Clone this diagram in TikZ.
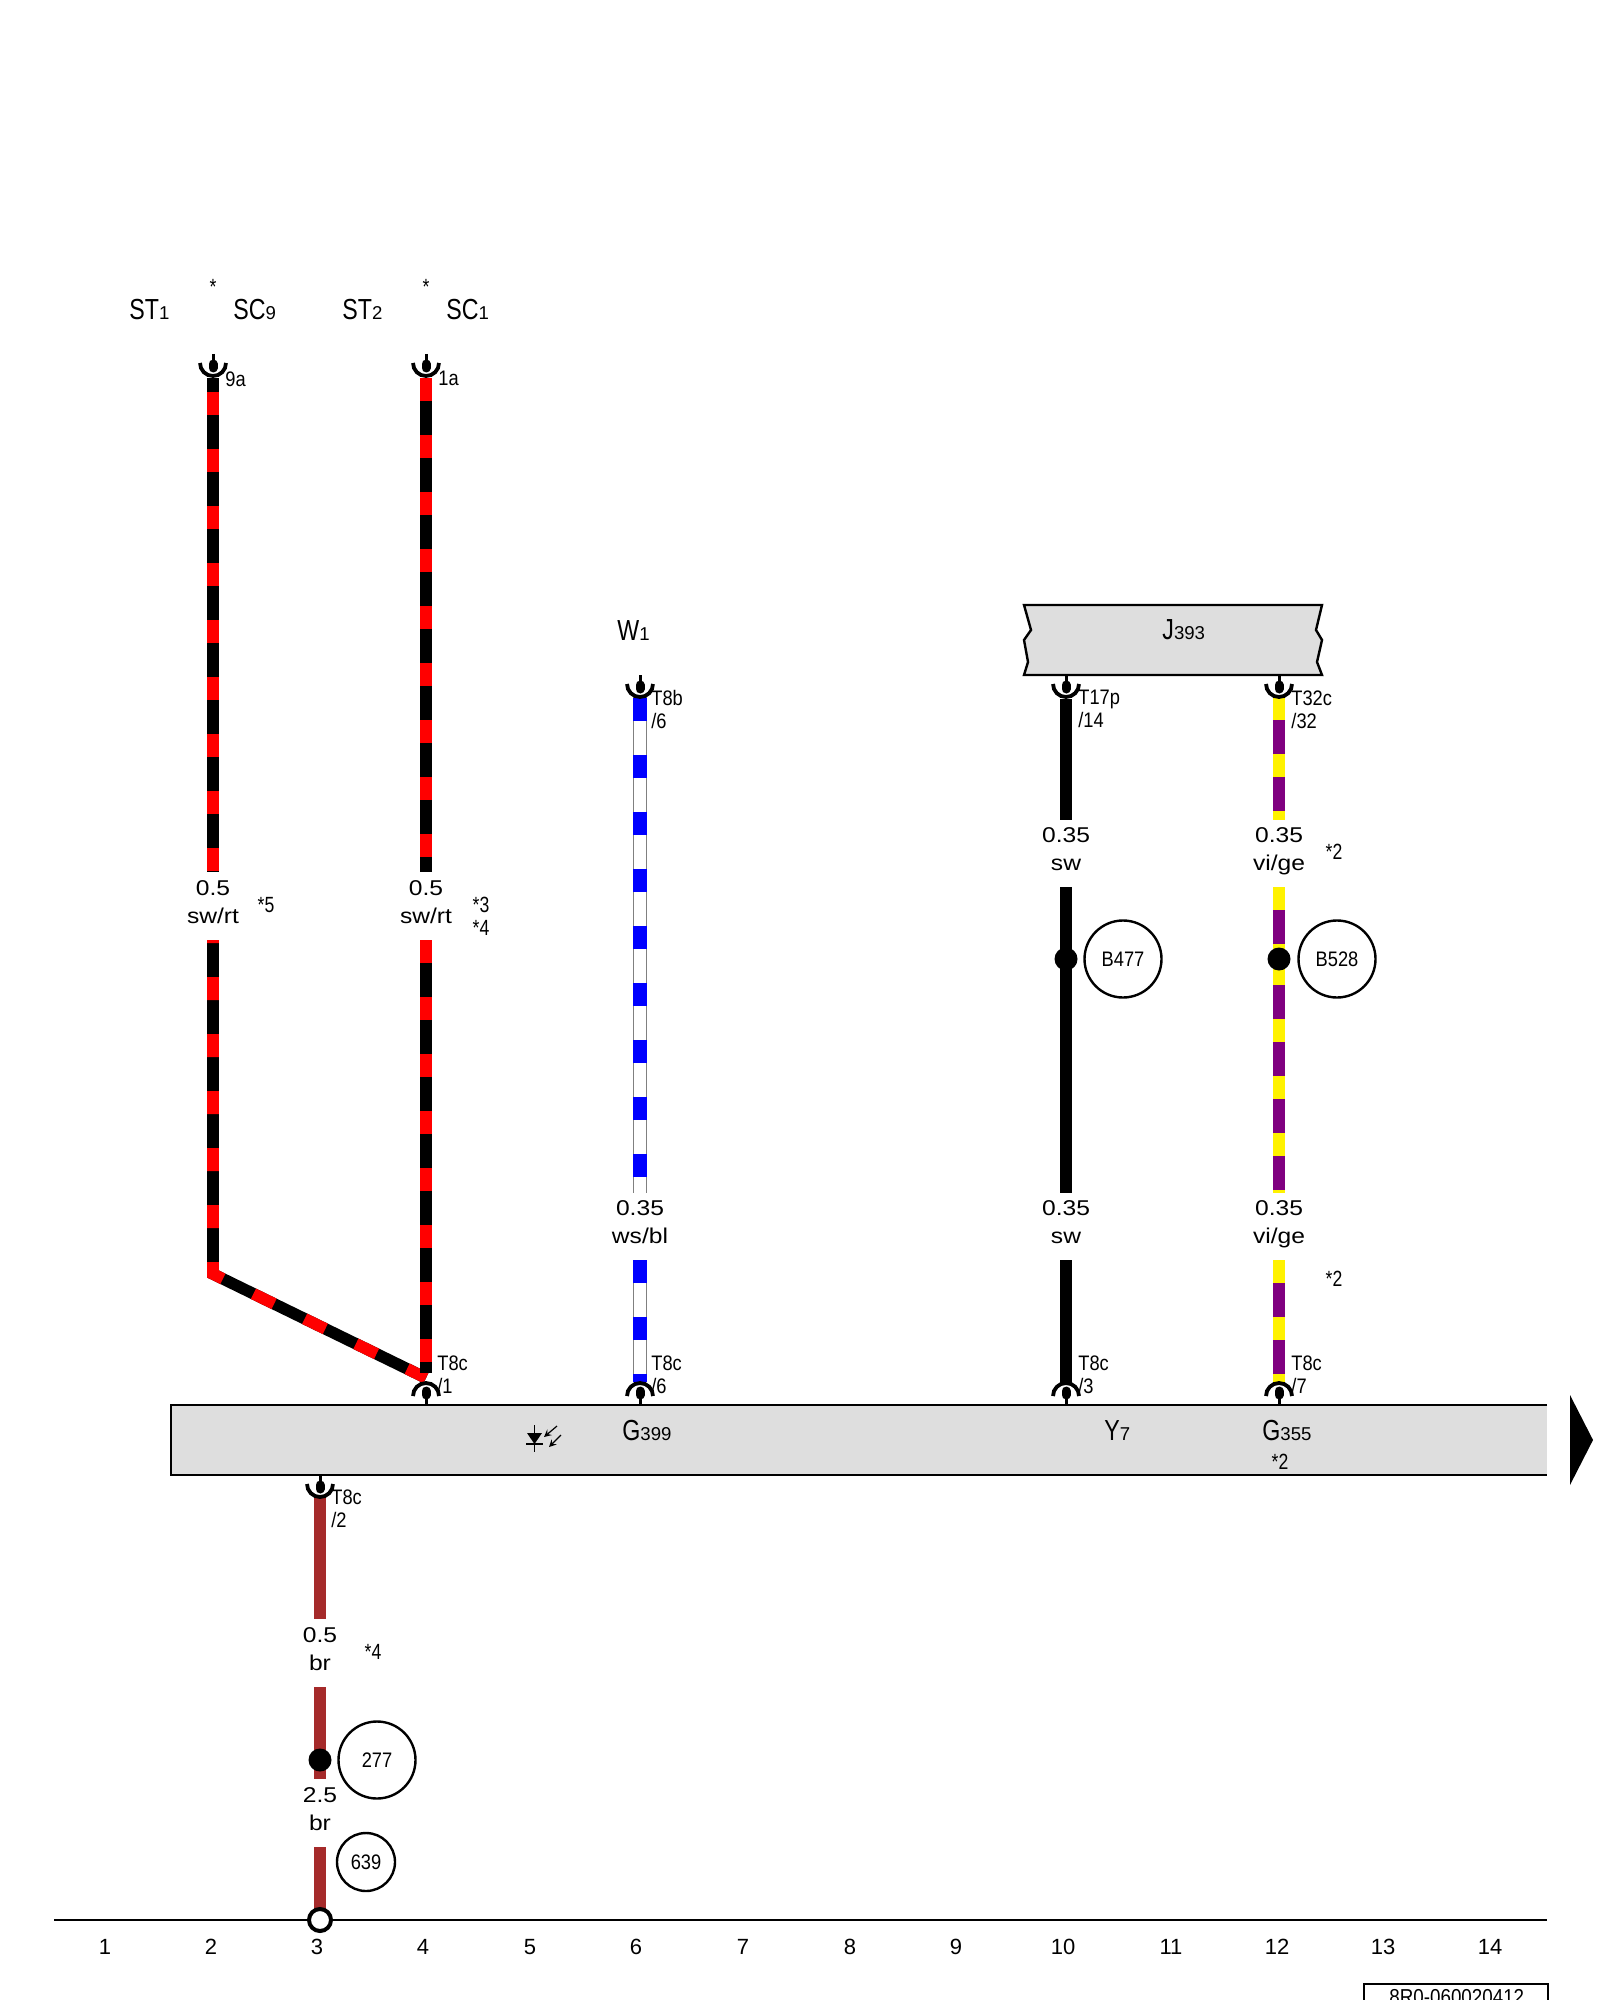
\documentclass[tikz,border=0pt]{standalone}
\usepackage{fontspec}
\setmainfont{Liberation Sans}
\newfontfamily\narrowfont[FakeStretch=0.87]{Liberation Sans}
\newfontfamily\condfont[FakeStretch=0.8]{Liberation Sans}
\newfontfamily\widefont[FakeStretch=1.15]{Liberation Sans}
\newcommand{\partlab}[2]{{\condfont\fontsize{14.5}{16}\selectfont #1}{\fontsize{9.3}{11}\selectfont #2}}
\definecolor{boxgray}{HTML}{DEDEDE}
\definecolor{wirebrown}{HTML}{A52A2A}
\definecolor{wirepurple}{HTML}{800080}
\tikzset{
    wirebase/.style={line width=5.8pt},
    swrt/.style={wirebase, black, postaction={draw, red, dash pattern=on 11.5pt off 17pt, dash phase=#1}},
    wsbl/.style={line width=6.8pt, gray, postaction={draw, white, line width=6pt}, postaction={draw, blue, line width=6.8pt, dash pattern=on 11.5pt off 17pt, dash phase=#1}},
    vige/.style={wirebase, wirepurple, postaction={draw, yellow, dash pattern=on 11.5pt off 17pt, dash phase=#1}},
    swwire/.style={wirebase, black},
    brwire/.style={wirebase, wirebrown},
    wirelab/.style={font=\widefont\fontsize{10.7}{14}\selectfont, align=center, anchor=north, inner sep=0pt},
    pinlab/.style={font=\narrowfont\fontsize{10.5}{11.5}\selectfont, align=left, anchor=north west, inner sep=0pt},
    notelab/.style={font=\condfont\fontsize{11}{13}\selectfont, inner sep=0pt},
    partname/.style={anchor=base west, inner sep=0pt},
    refcircle/.style={draw, circle, line width=1.2pt, fill=white, inner sep=0pt, font=\narrowfont\fontsize{10.5}{12}\selectfont},
    splice/.style={circle, fill=black, minimum size=11.5pt, inner sep=0pt},
    numlab/.style={font=\fontsize{11}{12}\selectfont, inner sep=0pt},
    pics/plug/.style={code={
        \draw[line width=1.5pt] (0,0) -- (0,10);
        \draw[line width=4.5pt, line cap=round] (0,10) -- (0,14);
        \draw[line width=1.9pt] (-13,9) arc[start angle=180, end angle=0, radius=13];
    }}
}
\begin{document}
\begin{tikzpicture}[x=0.5pt, y=-0.5pt]
    \clip (0,0) rectangle (1600,2000);

    % Part boxes
    \fill[boxgray] (171,1405) rectangle (1547,1475);
    \draw[line width=1.2pt] (1547,1405) -- (171,1405) -- (171,1475) -- (1547,1475);
    \fill (1570,1395) -- (1593,1440) -- (1570,1485) -- cycle;
    \draw[line width=1.2pt, fill=boxgray] (1024,605) -- (1322,605) -- (1316,630) -- (1322,640) -- (1317,662) -- (1322,675)
        -- (1024,675) -- (1028,662) -- (1024,640) -- (1031,630) -- cycle;

    % Wire ends
    \coordinate (aTop) at (213,378);
    \coordinate (aMid) at (213,872);
    \coordinate (aLow) at (213,940);
    \coordinate (aBend) at (213,1274);
    \coordinate (aEnd) at (426,1378);
    \coordinate (bTop) at (426,378);
    \coordinate (bMid) at (426,872);
    \coordinate (bLow) at (426,940);
    \coordinate (bEnd) at (426,1373);
    \coordinate (cTop) at (640,696);
    \coordinate (cMid) at (640,1193);
    \coordinate (cLow) at (640,1260);
    \coordinate (cEnd) at (640,1382);
    \coordinate (dTop) at (1066,699);
    \coordinate (dMid) at (1066,820);
    \coordinate (dLow) at (1066,887);
    \coordinate (dMore) at (1066,1193);
    \coordinate (dNext) at (1066,1260);
    \coordinate (dEnd) at (1066,1382);
    \coordinate (eTop) at (1279,697);
    \coordinate (eMid) at (1279,820);
    \coordinate (eLow) at (1279,887);
    \coordinate (eJoin) at (1279,959);
    \coordinate (eMore) at (1279,962);
    \coordinate (eStop) at (1279,1193);
    \coordinate (eNext) at (1279,1260);
    \coordinate (eEnd) at (1279,1382);
    \coordinate (fTop) at (320,1496);
    \coordinate (fMid) at (320,1619);
    \coordinate (fLow) at (320,1687);
    \coordinate (fStop) at (320,1779);
    \coordinate (fNext) at (320,1847);

    % Wires
    \draw[swrt=21.5pt] (aTop) -- (aMid);
    \draw[swrt=10pt, miter limit=2] (aLow) -- (aBend) -- (aEnd);
    \draw[swrt=0pt] (bTop) -- (bMid);
    \draw[swrt=0pt] (bLow) -- (bEnd);
    \draw[wsbl=27.5pt] (cTop) -- (cMid);
    \draw[wsbl=0pt] (cLow) -- (cEnd);
    \draw[swwire] (dTop) -- (dMid);
    \draw[swwire] (dLow) -- (dMore);
    \draw[swwire] (dNext) -- (dEnd);
    \draw[vige=0pt] (eTop) -- (eMid);
    \draw[vige=0pt] (eLow) -- (eJoin);
    \draw[vige=0pt] (eMore) -- (eStop);
    \draw[vige=0pt] (eNext) -- (eEnd);
    \draw[brwire] (fTop) -- (fMid);
    \draw[brwire] (fLow) -- (fStop);
    \draw[brwire] (fNext) -- (320,1920);

    % Connector plugs
    \pic at (213,354) {plug};
    \pic at (426,354) {plug};
    \pic at (640,675) {plug};
    \pic at (1066,675) {plug};
    \pic at (1279,675) {plug};
    \pic at (320,1475) {plug};
    \foreach \x in {426,640,1066,1279}
        \pic[yscale=-1] at (\x,1405) {plug};

    % Wire labels
    \node[wirelab] (sizeA) at (213,880) {0.5\\sw/rt};
    \node[wirelab] (sizeB) at (426,880) {0.5\\sw/rt};
    \node[wirelab] (sizeC) at (640,1200) {0.35\\ws/bl};
    \node[wirelab] (sizeD) at (1066,827) {0.35\\sw};
    \node[wirelab] (sizeE) at (1279,827) {0.35\\vi/ge};
    \node[wirelab] (sizeF) at (1066,1200) {0.35\\sw};
    \node[wirelab] (sizeG) at (1279,1200) {0.35\\vi/ge};
    \node[wirelab] (sizeH) at (320,1627) {0.5\\br};
    \node[wirelab] (sizeI) at (320,1787) {2.5\\br};

    % Pin labels
    \node[pinlab] (pinA) at (225,371) {9a};
    \node[pinlab] (pinB) at (438,371) {1a};
    \node[pinlab] (pinC) at (651,690) {T8b\\/6};
    \node[pinlab] (pinD) at (1078,690) {T17p\\/14};
    \node[pinlab] (pinE) at (1291,690) {T32c\\/32};
    \node[pinlab] (pinF) at (437,1355) {T8c\\/1};
    \node[pinlab] (pinG) at (651,1355) {T8c\\/6};
    \node[pinlab] (pinH) at (1078,1355) {T8c\\/3};
    \node[pinlab] (pinI) at (1291,1355) {T8c\\/7};
    \node[pinlab] (pinJ) at (331,1489) {T8c\\/2};

    % Part names
    \node[partname] (st1) at (129,320) {\partlab{ST}{1}};
    \node[partname] (sc9) at (233,320) {\partlab{SC}{9}};
    \node[partname] (st2) at (342,320) {\partlab{ST}{2}};
    \node[partname] (sc1) at (446,320) {\partlab{SC}{1}};
    \node[partname] (w1) at (617,640) {\partlab{W}{1}};
    \node[partname] (j393) at (1162,639) {\partlab{J}{393}};
    \node[partname] (g399) at (622,1440) {\partlab{G}{399}};
    \node[partname] (y7) at (1104,1440) {\partlab{Y}{7}};
    \node[partname] (g355) at (1262,1440) {\partlab{G}{355}};

    % Footnote marks
    \node[notelab] (starA) at (213,287) {*};
    \node[notelab] (starB) at (426,287) {*};
    \node[notelab] (noteA) at (266,905) {*5};
    \node[notelab] (noteB) at (481,905) {*3};
    \node[notelab] (noteC) at (481,928) {*4};
    \node[notelab] (noteD) at (1334,852) {*2};
    \node[notelab] (noteE) at (1334,1279) {*2};
    \node[notelab] (noteF) at (1280,1462) {*2};
    \node[notelab] (noteG) at (373,1652) {*4};

    % Splices and reference circles
    \node[splice] (spD) at (1066,959) {};
    \node[splice] (spE) at (1279,959) {};
    \node[splice] (spF) at (320,1760) {};
    \node[refcircle, minimum size=38.5pt] (b477) at (1123,959) {B477};
    \node[refcircle, minimum size=38.5pt] (b528) at (1337,959) {B528};
    \node[refcircle, minimum size=38.5pt] (r277) at (377,1760) {277};
    \node[refcircle, minimum size=29pt] (r639) at (366,1862) {639};

    % Earth line
    \coordinate (lineL) at (54,1920);
    \coordinate (lineR) at (1547,1920);
    \draw[line width=1.2pt] (lineL) -- (lineR);
    \node[draw, circle, line width=2pt, fill=white, minimum size=11pt, inner sep=0pt] (earth) at (320,1920) {};
    \foreach \n/\x in {1/105,2/211,3/317,4/423,5/530,6/636,7/743,8/850,9/956,10/1063,11/1171,12/1277,13/1383,14/1490}
        \node[numlab] (num\n) at (\x,1947) {\n};

    % LED symbol
    \fill (527,1433) -- (542,1433) -- (534.5,1444) -- cycle;
    \draw[line width=0.6pt] (534.5,1425) -- (534.5,1452);
    \draw[line width=0.6pt] (526,1444) -- (543,1444);
    \draw[line width=0.6pt, -stealth] (557,1426) -- (544,1437);
    \draw[line width=0.6pt, -stealth] (561,1435) -- (549,1447);

    % Drawing number
    \draw[line width=1.2pt] (1364,2020) -- (1364,1984) -- (1548,1984) -- (1548,2020);
    \node[partname, font=\narrowfont\fontsize{10.8}{12}\selectfont] (docnum) at (1389,2004) {8R0-060020412};
\end{tikzpicture}
\end{document}
